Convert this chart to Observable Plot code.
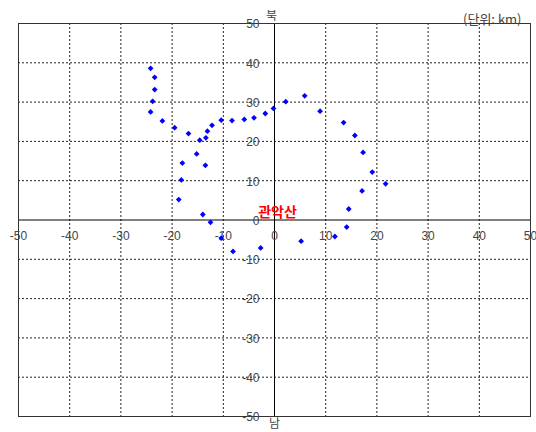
<!DOCTYPE html>
<html><head><meta charset="utf-8">
<script src="https://cdn.jsdelivr.net/npm/d3@7"></script>
<script src="https://cdn.jsdelivr.net/npm/@observablehq/plot@0.6"></script>
<style>body{margin:0;background:#fff}#chart svg{display:block}</style>
</head><body><div id="chart"></div>
<script>
// East-west (km) and north-south (km) offsets from 관악산
const eastKm = [-24.2,-23.4,-23.4,-23.8,-24.2,-21.9,-19.5,-16.8,-14.6,-13.4,-13.1,-12.2,-10.4,-8.3,-5.9,-4.0,-1.8,-0.2,2.2,5.9,8.9,
                -15.2,-18.0,-13.5,-18.2,-18.7,-14.0,-12.5,-10.4,-8.1,-2.7,5.2,13.5,15.7,17.3,19.1,21.7,17.1,14.5,14.1,11.8];
const northKm = [38.6,36.3,33.2,30.2,27.5,25.2,23.5,22.0,20.3,20.9,22.6,24.1,25.4,25.3,25.6,26.0,27.1,28.4,30.1,31.6,27.7,
                 16.8,14.5,13.9,10.2,5.2,1.4,-0.6,-4.6,-8.0,-7.1,-5.4,24.8,21.5,17.2,12.2,9.2,7.4,2.8,-1.8,-4.2];
const axisTicks = [-50,-40,-30,-20,-10,0,10,20,30,40,50];
const centerName = ["관악산"];
const northLabel = ["북"];
const southLabel = ["남"];
const unitLabel = ["(단위: km)"];

const points = eastKm.map((x, i) => ({x, y: northKm[i]}));
const gridTicks = axisTicks.filter(d => d !== 0 && Math.abs(d) !== 50);
const txt = {fill: "#444", fontSize: 12};
const kr = "'Noto Sans CJK KR','Liberation Sans',sans-serif";

const chart = Plot.plot({
  width: 536, height: 432,
  marginLeft: 18, marginRight: 6, marginTop: 23, marginBottom: 16,
  x: {domain: [-50, 50], axis: null},
  y: {domain: [-50, 50], axis: null},
  style: {fontFamily: "'Liberation Sans','Noto Sans CJK KR',sans-serif", fontSize: "12px", background: "#fff", overflow: "visible"},
  marks: [
    Plot.ruleX(gridTicks, {x: d => d, stroke: "#222", strokeDasharray: "2,2"}),
    Plot.ruleY(gridTicks, {y: d => d, stroke: "#222", strokeDasharray: "2,2"}),
    Plot.ruleX([0], {x: d => d, stroke: "#000"}),
    Plot.ruleY([0], {y: d => d, stroke: "#000"}),
    Plot.frame({stroke: "#333"}),
    Plot.text(axisTicks, {x: d => d, y: 0, dy: 16.5, text: d => String(d), ...txt}),
    Plot.text(axisTicks, {x: 0, y: d => d, dx: -15, dy: 1, textAnchor: "end", text: d => String(d), ...txt}),
    Plot.dot(points, {x: "x", y: "y", symbol: "diamond2", r: 2.6, fill: "#0000ff", stroke: "none"}),
    Plot.text(centerName, {x: 0, y: 0, dx: 3, dy: -7, textAnchor: "middle", text: d => d, fill: "#ff0000", fontWeight: "bold", fontSize: 14, fontFamily: kr}),
    Plot.text(northLabel, {x: 0, frameAnchor: "top", dx: -3, dy: -12, text: d => d, fill: "#444", fontSize: 12, fontFamily: kr}),
    Plot.text(southLabel, {x: 0, frameAnchor: "bottom", dx: 0, dy: 11, text: d => d, fill: "#444", fontSize: 12, fontFamily: kr}),
    Plot.text(unitLabel, {frameAnchor: "top-right", textAnchor: "end", dx: -9, dy: -9, text: d => d, fill: "#444", fontSize: 13, fontFamily: kr})
  ]
});
document.getElementById("chart").append(chart);
</script>
</body></html>
